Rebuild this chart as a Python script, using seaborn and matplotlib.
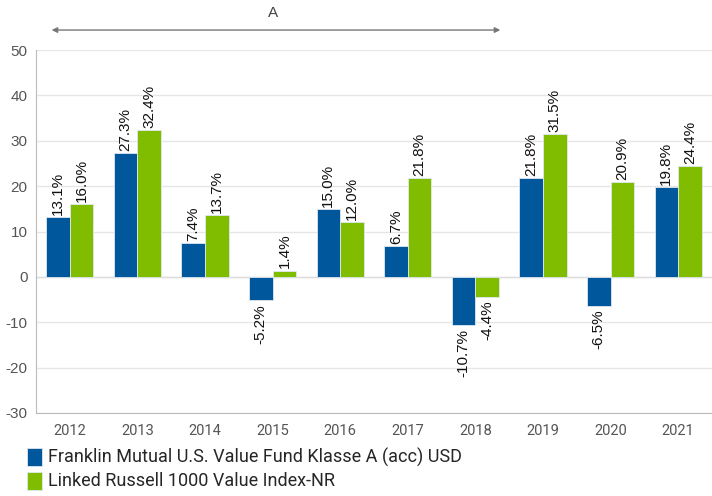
import matplotlib.pyplot as plt
import pandas as pd
import seaborn as sns

years = ['2012', '2013', '2014', '2015', '2016', '2017', '2018', '2019', '2020', '2021']
fund = [13.1, 27.3, 7.4, -5.2, 15.0, 6.7, -10.7, 21.8, -6.5, 19.8]
index = [16.0, 32.4, 13.7, 1.4, 12.0, 21.8, -4.4, 31.5, 20.9, 24.4]
series = ['Franklin Mutual U.S. Value Fund Klasse A (acc) USD',
          'Linked Russell 1000 Value Index-NR']
colors = ['#00579B', '#80BC00']

df = pd.DataFrame({
    'year': years * 2,
    'value': fund + index,
    'series': [series[0]] * len(years) + [series[1]] * len(years),
})

sns.set_style('white')
plt.rcParams['font.family'] = ['Liberation Sans', 'DejaVu Sans']
plt.rcParams['axes.unicode_minus'] = False

fig = plt.figure(figsize=(7.12, 4.96), dpi=100)
ax = fig.add_axes([36 / 712, 1 - 413 / 496, 676 / 712, 363 / 496])

sns.barplot(data=df, x='year', y='value', hue='series', palette=colors,
            saturation=1, width=0.7, edgecolor='#dfe8f0', linewidth=0.6,
            ax=ax, zorder=3)

for cont in ax.containers:
    for bar in cont:
        h = bar.get_height()
        x = bar.get_x() + bar.get_width() / 2
        if h >= 0:
            ax.annotate(f'{h:.1f}%', (x, h), xytext=(0, 1.5), textcoords='offset points',
                        rotation=90, ha='center', va='bottom', fontsize=11, color='#111111')
        else:
            ax.annotate(f'{h:.1f}%', (x, h), xytext=(0, -2.5), textcoords='offset points',
                        rotation=90, ha='center', va='top', fontsize=11, color='#111111')

ax.set_ylim(-30, 50)
ax.set_yticks(range(-30, 51, 10))
ax.set_xlim(-0.5, len(years) - 0.5)
ax.grid(axis='y', color='#e6e6e6', linewidth=1, zorder=0)
ax.axhline(0, color='#dddddd', linewidth=1, zorder=1)
ax.set_xlabel('')
ax.set_ylabel('')
for s in ['top', 'right']:
    ax.spines[s].set_visible(False)
ax.spines['left'].set_color('#bbbbbb')
ax.spines['bottom'].set_color('#bbbbbb')
ax.tick_params(axis='y', length=0, labelsize=11, colors='#555555', pad=6)
ax.tick_params(axis='x', length=0, colors='#555555', pad=8)
for lbl in ax.get_xticklabels():
    lbl.set_fontfamily('Roboto')
    lbl.set_fontsize(10.5)

# period arrow
ax.annotate('', xy=(-0.31, 54.4), xytext=(6.41, 54.4), annotation_clip=False,
            arrowprops=dict(arrowstyle='<|-|>', color='#777777', lw=1.0,
                            facecolor='white', mutation_scale=8))
ax.text(3.0, 56.6, 'A', ha='center', va='bottom', fontsize=11, color='#444444', clip_on=False)

handles, labels = ax.get_legend_handles_labels()
leg = ax.legend(handles, labels, loc='upper left', bbox_to_anchor=(-0.013, -0.096),
                frameon=False, fontsize=12, handlelength=0.9, handleheight=1.26,
                handletextpad=0.35, labelspacing=0.3, borderaxespad=0, borderpad=0)
for t in leg.get_texts():
    t.set_fontfamily('Roboto')
    t.set_fontsize(13)

fig.savefig('out.png', dpi=100)
